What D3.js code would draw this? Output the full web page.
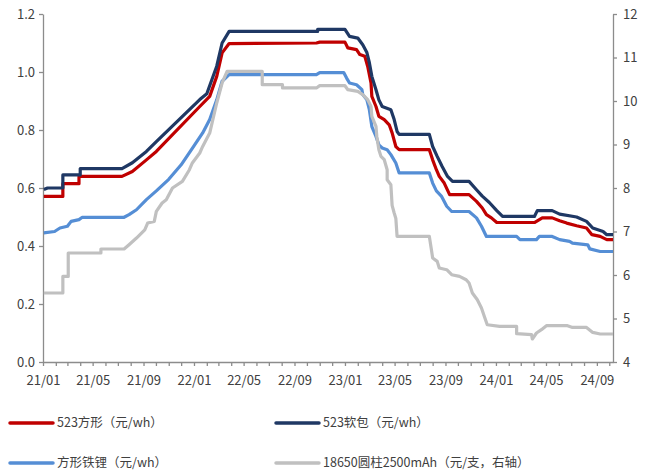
<!DOCTYPE html>
<html>
<head>
<meta charset="utf-8">
<script src="https://cdn.jsdelivr.net/npm/d3@7"></script>
<style>
  html, body { margin: 0; padding: 0; background: #fff; }
  svg { display: block; font-family: "Noto Sans CJK SC", "Noto Sans", sans-serif; }
</style>
</head>
<body>
<svg id="chart" width="647" height="474"></svg>
<script>
// ---------- data ----------
const seriesNames = ["523方形（元/wh）", "523软包（元/wh）", "方形铁锂（元/wh）", "18650圆柱2500mAh（元/支，右轴）"];
const seriesColors = ["#C00000", "#1F3864", "#558ED5", "#C0C0C0"];

const ternarySquare = [
  ["2021-01-03",0.571],["2021-02-18",0.571],["2021-02-18",0.615],["2021-03-29",0.615],["2021-03-29",0.64],
  ["2021-07-11",0.64],["2021-08-05",0.657],["2021-09-08",0.697],["2021-10-02",0.726],["2022-01-15",0.881],
  ["2022-02-08",0.916],["2022-02-25",0.985],["2022-03-10",1.066],["2022-03-27",1.098],["2022-10-24",1.10],
  ["2022-11-01",1.103],["2023-01-01",1.103],["2023-01-08",1.083],["2023-01-29",1.077],["2023-02-06",1.06],
  ["2023-02-18",1.054],["2023-02-25",1.019],["2023-03-05",0.962],["2023-03-07",0.916],["2023-03-17",0.881],
  ["2023-03-24",0.847],["2023-04-06",0.836],["2023-04-18",0.818],["2023-04-25",0.79],["2023-05-04",0.743],
  ["2023-05-12",0.732],["2023-07-24",0.732],["2023-08-01",0.697],["2023-08-10",0.663],["2023-08-17",0.64],
  ["2023-08-29",0.617],["2023-09-11",0.577],["2023-10-28",0.577],["2023-11-15",0.554],["2023-11-29",0.531],
  ["2023-12-09",0.508],["2023-12-21",0.497],["2024-01-03",0.481],["2024-04-03",0.481],["2024-04-22",0.497],
  ["2024-05-16",0.497],["2024-06-03",0.487],["2024-06-20",0.479],["2024-07-14",0.47],["2024-08-07",0.462],
  ["2024-08-20",0.439],["2024-09-09",0.433],["2024-09-25",0.422],["2024-10-10",0.422]
];
const ternaryPouch = [
  ["2021-01-03",0.595],["2021-01-12",0.60],["2021-02-18",0.60],["2021-02-18",0.645],["2021-04-01",0.645],
  ["2021-04-01",0.667],["2021-07-11",0.667],["2021-08-05",0.687],["2021-09-08",0.726],["2021-10-02",0.76],
  ["2022-01-15",0.905],["2022-02-01",0.925],["2022-02-25",1.02],["2022-03-10",1.10],["2022-03-27",1.14],
  ["2022-10-27",1.14],["2022-10-27",1.147],["2023-01-01",1.147],["2023-01-12",1.123],["2023-02-01",1.117],
  ["2023-02-13",1.094],["2023-02-23",1.067],["2023-03-01",1.032],["2023-03-07",0.985],["2023-03-17",0.939],
  ["2023-03-24",0.904],["2023-04-01",0.881],["2023-04-22",0.870],["2023-04-30",0.836],["2023-05-07",0.795],
  ["2023-05-12",0.785],["2023-07-24",0.785],["2023-08-01",0.743],["2023-08-12",0.709],["2023-08-24",0.674],
  ["2023-09-06",0.640],["2023-09-18",0.623],["2023-10-28",0.623],["2023-11-15",0.594],["2023-11-29",0.572],
  ["2023-12-16",0.55],["2024-01-03",0.522],["2024-01-17",0.502],["2024-04-03",0.502],["2024-04-10",0.522],
  ["2024-05-16",0.522],["2024-06-03",0.510],["2024-07-14",0.50],["2024-08-07",0.485],["2024-08-22",0.462],
  ["2024-09-16",0.450],["2024-09-25",0.439],["2024-10-10",0.439]
];
const lfpSquare = [
  ["2021-01-03",0.445],["2021-01-29",0.45],["2021-02-11",0.462],["2021-03-01",0.468],["2021-03-10",0.485],
  ["2021-03-29",0.491],["2021-04-06",0.499],["2021-07-16",0.499],["2021-07-28",0.508],["2021-08-15",0.525],
  ["2021-09-08",0.56],["2021-10-02",0.59],["2021-11-01",0.63],["2021-12-01",0.68],["2022-01-01",0.745],
  ["2022-01-22",0.79],["2022-02-08",0.836],["2022-02-25",0.904],["2022-03-10",0.968],["2022-03-27",0.991],
  ["2022-10-24",0.991],["2022-11-01",0.998],["2022-12-29",0.998],["2023-01-05",0.979],["2023-01-12",0.962],
  ["2023-01-29",0.956],["2023-02-11",0.939],["2023-02-13",0.922],["2023-02-23",0.904],["2023-03-01",0.87],
  ["2023-03-07",0.812],["2023-03-17",0.778],["2023-03-24",0.749],["2023-04-01",0.738],["2023-04-13",0.732],
  ["2023-04-22",0.715],["2023-05-04",0.686],["2023-05-12",0.652],["2023-07-24",0.652],["2023-08-01",0.617],
  ["2023-08-10",0.59],["2023-08-22",0.572],["2023-09-04",0.537],["2023-09-16",0.519],["2023-10-28",0.519],
  ["2023-11-15",0.497],["2023-11-27",0.468],["2023-12-09",0.433],["2024-02-20",0.433],["2024-02-28",0.422],
  ["2024-04-08",0.422],["2024-04-15",0.433],["2024-05-16",0.433],["2024-06-03",0.422],["2024-06-27",0.416],
  ["2024-07-04",0.41],["2024-08-10",0.404],["2024-08-15",0.39],["2024-09-09",0.381],["2024-10-10",0.381]
];
const cylinder18650 = [
  ["2021-01-03",5.586],["2021-02-18",5.586],["2021-02-18",5.968],["2021-03-03",5.968],["2021-03-03",6.506],
  ["2021-05-21",6.506],["2021-05-21",6.598],["2021-07-16",6.598],["2021-07-28",6.697],["2021-08-15",6.85],
  ["2021-09-04",7.04],["2021-09-11",7.195],["2021-09-27",7.232],["2021-10-02",7.462],["2021-10-16",7.655],
  ["2021-10-26",7.731],["2021-11-10",8.0],["2021-12-04",8.152],["2021-12-21",8.42],["2021-12-28",8.575],
  ["2022-01-15",8.805],["2022-01-22",8.956],["2022-02-08",9.264],["2022-02-25",9.954],["2022-03-10",10.414],
  ["2022-03-22",10.68],["2022-06-15",10.68],["2022-06-15",10.375],["2022-08-03",10.375],["2022-08-03",10.30],
  ["2022-10-24",10.30],["2022-11-01",10.352],["2023-01-01",10.352],["2023-01-08",10.26],["2023-02-01",10.22],
  ["2023-02-13",10.145],["2023-02-25",10.03],["2023-03-05",9.876],["2023-03-07",9.646],["2023-03-17",9.416],
  ["2023-03-19",9.186],["2023-03-24",8.88],["2023-03-29",8.727],["2023-04-06",8.651],["2023-04-13",8.42],
  ["2023-04-13",8.19],["2023-04-22",8.075],["2023-04-25",7.6],["2023-04-30",7.425],["2023-05-04",7.3],
  ["2023-05-07",6.887],["2023-07-24",6.887],["2023-07-29",6.582],["2023-08-01",6.391],["2023-08-12",6.313],
  ["2023-08-17",6.161],["2023-09-04",6.122],["2023-09-16",6.007],["2023-10-05",5.968],["2023-10-21",5.892],
  ["2023-10-28",5.816],["2023-11-05",5.586],["2023-11-17",5.432],["2023-11-27",5.241],["2023-12-04",5.048],
  ["2023-12-11",4.857],["2024-01-10",4.818],["2024-02-20",4.818],["2024-02-20",4.651],["2024-03-27",4.628],
  ["2024-03-29",4.529],["2024-04-08",4.667],["2024-04-20",4.743],["2024-05-02",4.834],["2024-06-22",4.834],
  ["2024-07-04",4.795],["2024-08-07",4.795],["2024-08-22",4.68],["2024-09-09",4.644],["2024-10-10",4.644]
];

const leftTicks = [0, 0.2, 0.4, 0.6, 0.8, 1.0, 1.2];
const rightTicks = [4, 5, 6, 7, 8, 9, 10, 11, 12];
const labeledMonths = [0, 4, 8]; // Jan, May, Sep
const xStart = "2021-01-01", xEnd = "2024-10-10";

// ---------- drawing ----------
const parse = d3.timeParse("%Y-%m-%d");
const svg = d3.select("#chart");

const x = d3.scaleTime().domain([parse(xStart), parse(xEnd)]).range([43, 613]);
const yL = d3.scaleLinear().domain([0, 1.2]).range([362, 14]);
const yR = d3.scaleLinear().domain([4, 12]).range([362, 14]);

const axisColor = "#8C8C8C";
const textColor = "#404040";

function styleAxis(g) {
  g.selectAll("path.domain").attr("stroke", axisColor).attr("stroke-width", 1.3);
  g.selectAll(".tick line").attr("stroke", axisColor).attr("stroke-width", 1.3);
  g.selectAll(".tick text").attr("fill", textColor).style("font-size", "13px")
    .style("font-family", '"Noto Sans CJK SC", "Noto Sans", sans-serif');
}

// x axis
const monthTicks = d3.timeMonth.range(parse(xStart), parse(xEnd));
const gx = svg.append("g").attr("transform", "translate(0,362)")
  .call(d3.axisBottom(x).tickValues(monthTicks).tickSize(4).tickSizeOuter(0)
    .tickPadding(10)
    .tickFormat(d => labeledMonths.includes(d.getMonth()) ? d3.timeFormat("%y/%m")(d) : ""));
styleAxis(gx);
gx.selectAll(".tick text").filter(function () { return this.textContent === ""; }).remove();

// left axis
const gl = svg.append("g").attr("transform", "translate(43,0)")
  .call(d3.axisLeft(yL).tickValues(leftTicks).tickSize(4).tickSizeOuter(0).tickPadding(4)
    .tickFormat(d3.format(".1f")));
styleAxis(gl);

// right axis
const gr = svg.append("g").attr("transform", "translate(613,0)")
  .call(d3.axisRight(yR).tickValues(rightTicks).tickSize(4).tickSizeOuter(0).tickPadding(6)
    .tickFormat(d3.format("d")));
styleAxis(gr);

// lines
const allSeries = [
  { data: ternarySquare, y: yL },
  { data: ternaryPouch, y: yL },
  { data: lfpSquare, y: yL },
  { data: cylinder18650, y: yR }
];
allSeries.forEach((s, i) => {
  const line = d3.line().x(d => x(parse(d[0]))).y(d => s.y(d[1])).curve(d3.curveLinear);
  svg.append("path")
    .attr("d", line(s.data))
    .attr("fill", "none")
    .attr("stroke", seriesColors[i])
    .attr("stroke-width", 3.2)
    .attr("stroke-linejoin", "round")
    .attr("stroke-linecap", "butt");
});

// legend
const legendPos = [[10, 423], [276, 423], [10, 463], [276, 463]];
seriesNames.forEach((name, i) => {
  const [lx, ly] = legendPos[i];
  const g = svg.append("g").attr("transform", `translate(${lx},${ly})`);
  g.append("line").attr("x1", 0).attr("x2", 43).attr("y1", 0).attr("y2", 0)
    .attr("stroke", seriesColors[i]).attr("stroke-width", 3.5).attr("stroke-linecap", "round");
  g.append("text").attr("x", 47).attr("y", 0).attr("dy", "0.35em")
    .attr("fill", textColor).style("font-size", "12.5px").text(name);
});
</script>
</body>
</html>
